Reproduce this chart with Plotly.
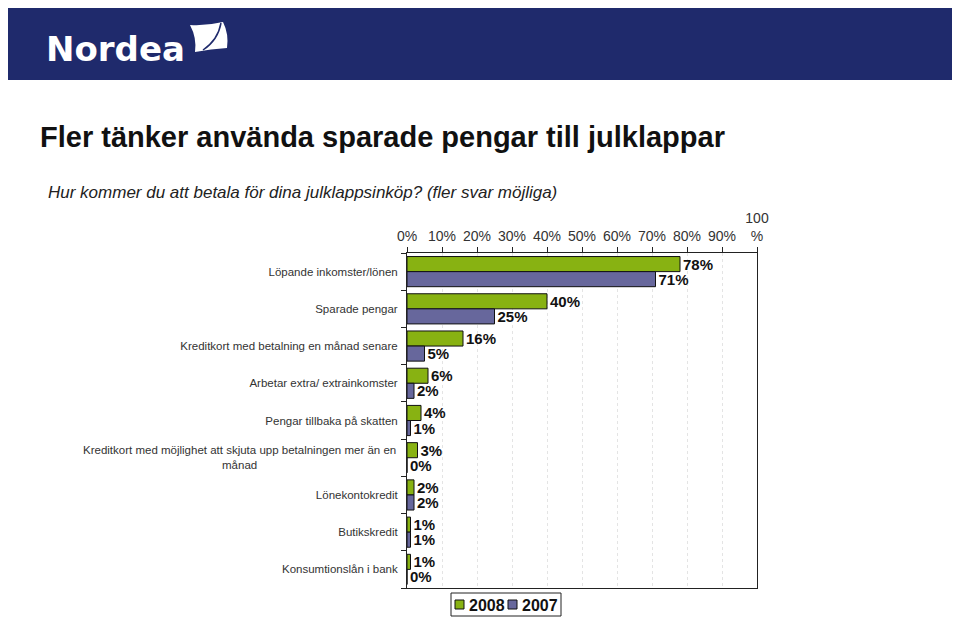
import plotly.graph_objects as go

categories = [
    "Löpande inkomster/lönen",
    "Sparade pengar",
    "Kreditkort med betalning en månad senare",
    "Arbetar extra/ extrainkomster",
    "Pengar tillbaka på skatten",
    "Kreditkort med möjlighet att skjuta upp betalningen mer än en<br>månad",
    "Lönekontokredit",
    "Butikskredit",
    "Konsumtionslån i bank",
]
series_names = ["2008", "2007"]
values_2008 = [78, 40, 16, 6, 4, 3, 2, 1, 1]
values_2007 = [71, 25, 5, 2, 1, 0, 2, 1, 0]
tick_vals = [0, 10, 20, 30, 40, 50, 60, 70, 80, 90, 100]
tick_text = ["0%", "10%", "20%", "30%", "40%", "50%", "60%", "70%", "80%", "90%", "100<br>%"]

# page has 8px body margin: work in page pixels, convert to figure pixels
OFF = 8
W, H = 960 - OFF, 617 - OFF
L, R, T, B = 407 - OFF, 757 - OFF, 253 - OFF, 588 - OFF

GREEN = "#88b212"
PURPLE = "#67679c"
NAVY = "#1f2a6c"


def px(x):
    return (x - OFF - L) / (R - L)


def py(y):
    return (B - (y - OFF)) / (B - T)


FONT = "Liberation Sans, Arial, sans-serif"
LONG = categories[5]

fig = go.Figure()
for name, vals, col in [(series_names[0], values_2008, GREEN), (series_names[1], values_2007, PURPLE)]:
    fig.add_trace(go.Bar(
        y=categories, x=vals, name=name, orientation="h",
        marker=dict(color=col, line=dict(color="#111111", width=1)),
        text=[f"{v}%" for v in vals], textposition="outside", constraintext="none",
        textfont=dict(size=15, color="#111111", family=FONT, weight="bold"),
        cliponaxis=False,
    ))

fig.update_layout(
    width=W, height=H,
    margin=dict(l=L, r=W - R, t=T, b=H - B, pad=0, autoexpand=False),
    paper_bgcolor="white", plot_bgcolor="white",
    barmode="group", bargap=0.19, bargroupgap=0.0,
    font=dict(family=FONT, color="#222222"),
    showlegend=False,
    xaxis=dict(range=[0, 100], side="top", tickvals=tick_vals, ticktext=tick_text,
               tickfont=dict(size=14, color="#333333"), ticks="outside", ticklen=5,
               tickcolor="#222222", showline=True, linecolor="#222222", mirror=True,
               showgrid=True, gridcolor="#e4e4e4", griddash="dot", zeroline=False,
               fixedrange=True),
    yaxis=dict(autorange="reversed", tickson="boundaries", ticks="outside", ticklen=5,
               tickcolor="#222222", tickfont=dict(size=11.5, color="#333333"),
               showline=True, linecolor="#222222", mirror=True, showgrid=False,
               ticklabelstandoff=6,
               tickmode="array", tickvals=categories,
               ticktext=[c if c != LONG else " " for c in categories]),
)


def P(x, y):
    return f"{px(x)} {py(y)}"


shapes = [
    dict(type="rect", xref="paper", yref="paper", x0=px(0), x1=px(957), y0=py(0), y1=py(80),
         fillcolor=NAVY, line=dict(width=0), layer="below"),
    # sail
    dict(type="path", xref="paper", yref="paper",
         path=(f"M {P(190, 25)} Q {P(206, 26)} {P(223, 22)} Q {P(229, 34)} {P(227, 48)} "
               f"Q {P(211, 49)} {P(195, 52)} Q {P(197, 38)} {P(190, 25)} Z"),
         fillcolor="white", line=dict(width=0)),
    dict(type="path", xref="paper", yref="paper",
         path=f"M {P(221, 23)} Q {P(218, 40)} {P(203, 50)}",
         line=dict(color=NAVY, width=1.5)),
    # legend box
    dict(type="rect", xref="paper", yref="paper", x0=px(451), x1=px(561), y0=py(593), y1=py(616),
         fillcolor="white", line=dict(color="#222222", width=1)),
    dict(type="rect", xref="paper", yref="paper", x0=px(455), x1=px(464), y0=py(600), y1=py(609),
         fillcolor=GREEN, line=dict(color="#111111", width=1)),
    dict(type="rect", xref="paper", yref="paper", x0=px(508), x1=px(517), y0=py(600), y1=py(609),
         fillcolor=PURPLE, line=dict(color="#111111", width=1)),
]
fig.update_layout(shapes=shapes)

annotations = [
    dict(text="Nordea", x=px(44), y=py(49), xref="paper", yref="paper", xanchor="left",
         yanchor="middle", showarrow=False,
         font=dict(size=34, color="white", family="DejaVu Sans, sans-serif", weight="bold")),
    dict(text="<b>Fler tänker använda sparade pengar till julklappar</b>", x=px(38), y=py(137),
         xref="paper", yref="paper", xanchor="left", yanchor="middle", showarrow=False,
         font=dict(size=29, color="#111111", family=FONT)),
    dict(text="<i>Hur kommer du att betala för dina julklappsinköp? (fler svar möjliga)</i>", x=px(46),
         y=py(192), xref="paper", yref="paper", xanchor="left", yanchor="middle", showarrow=False,
         font=dict(size=17, color="#222222", family=FONT)),
    dict(text=LONG, x=px(398), y=LONG, xref="paper", yref="y", xanchor="right", yanchor="middle",
         align="center", showarrow=False, font=dict(size=11.5, color="#333333", family=FONT)),
    dict(text="<b>" + series_names[0] + "</b>", x=px(467), y=py(605), xref="paper", yref="paper",
         xanchor="left", yanchor="middle", showarrow=False,
         font=dict(size=16, color="#111111", family=FONT)),
    dict(text="<b>" + series_names[1] + "</b>", x=px(520), y=py(605), xref="paper", yref="paper",
         xanchor="left", yanchor="middle", showarrow=False,
         font=dict(size=16, color="#111111", family=FONT)),
]
fig.update_layout(annotations=annotations)

fig.write_html("out.html")
